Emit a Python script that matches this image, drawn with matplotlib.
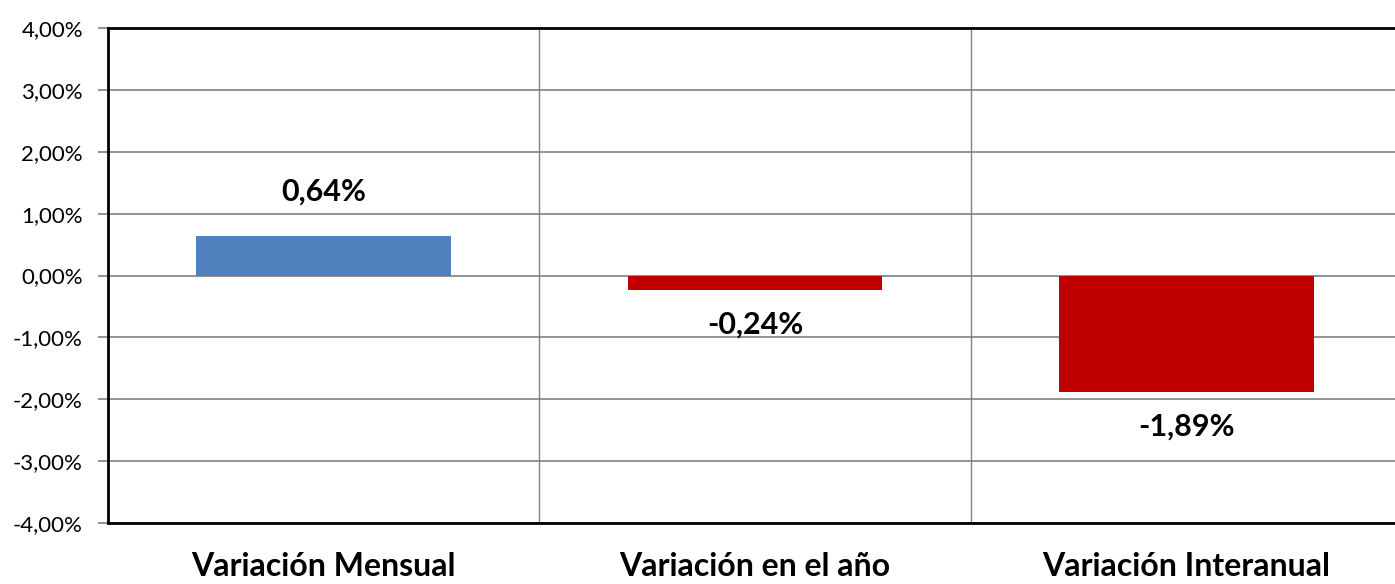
import numpy as np
import matplotlib.pyplot as plt
from matplotlib.ticker import FuncFormatter

# DATOS
categorias = ["Variación Mensual", "Variación en el año", "Variación Interanual"]
valores = [0.64, -0.24, -1.89]
colores = ["#4F81BD", "#C00000", "#C00000"]
etiquetas = ["0,64%", "-0,24%", "-1,89%"]

plt.rcParams['font.family'] = ['Lato', 'DejaVu Sans']

fig = plt.figure(figsize=(13.95, 5.84), dpi=100)
# EL GRAFICO ORIGINAL SE SALE POR LA DERECHA
ax = fig.add_axes([108/1395, 1 - 523/584, 1294/1395, 495/584])

x = np.arange(len(categorias))
ax.bar(x, valores, width=0.59, color=colores, zorder=3)

ax.set_xlim(-0.5, 2.5)
ax.set_ylim(-4, 4)
ax.set_yticks(np.arange(-4, 4.01, 1))
ax.yaxis.set_major_formatter(FuncFormatter(lambda v, p: f"{v:.2f}%".replace(".", ",")))
ax.tick_params(axis='y', labelsize=16, length=7, width=1.2, color="#808080", pad=11)
ax.grid(axis='y', color="#808080", linewidth=1.2, zorder=0)

# SEPARADORES VERTICALES
for b in [0.5, 1.5]:
    ax.axvline(b, color="#808080", linewidth=1, zorder=1)

ax.set_xticks([])
for i, c in enumerate(categorias):
    ax.text(i, -4.86, c, ha='center', va='baseline', fontsize=23, fontweight='bold')

# ETIQUETAS DE VALOR
for i, (v, t) in enumerate(zip(valores, etiquetas)):
    if v >= 0:
        ax.text(i, v + 0.72, t, ha='center', va='center', fontsize=22, fontweight='bold')
    else:
        ax.text(i, v - 0.55, t, ha='center', va='center', fontsize=22, fontweight='bold')

for s in ['left', 'top', 'bottom']:
    ax.spines[s].set_linewidth(2)
    ax.spines[s].set_color("black")
ax.spines['right'].set_visible(False)

fig.savefig("out.png", dpi=100)
